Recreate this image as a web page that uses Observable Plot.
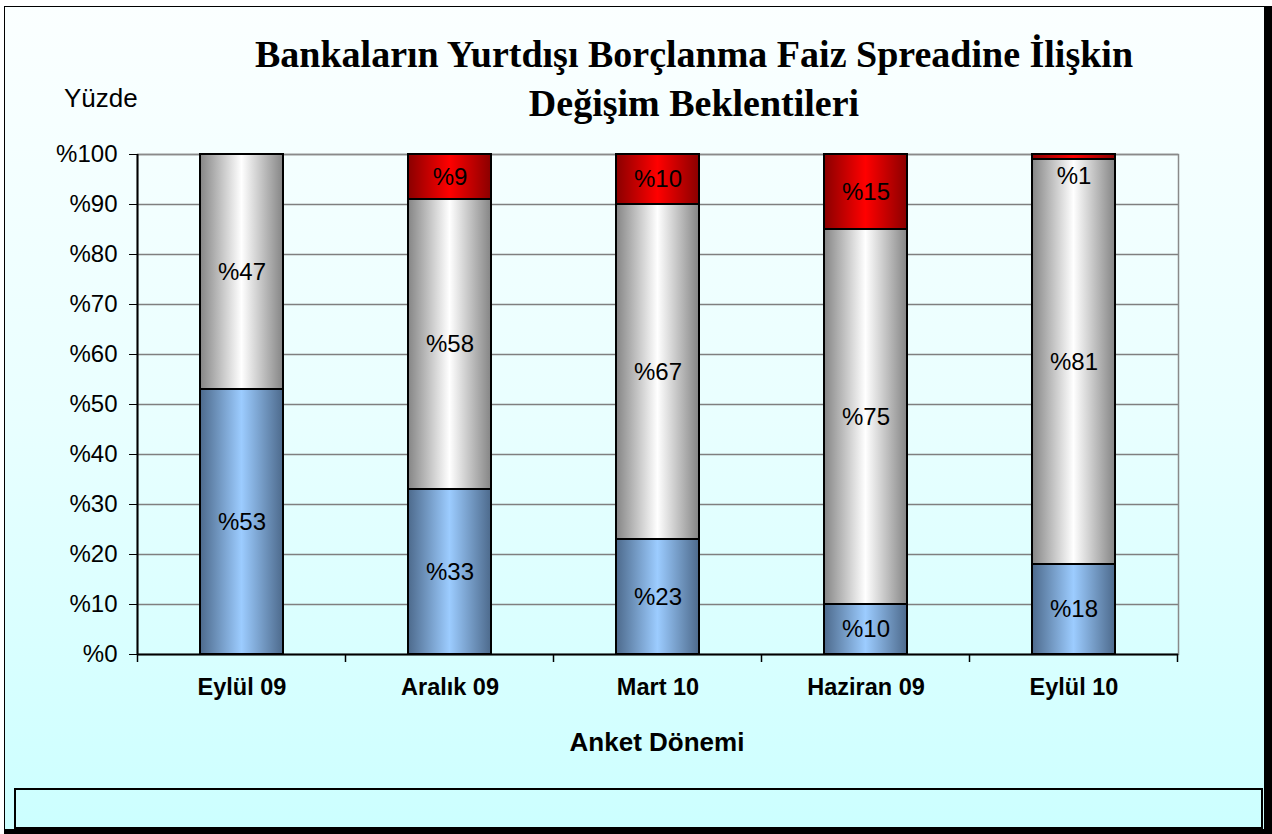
<!DOCTYPE html>
<html><head><meta charset="utf-8">
<script src="https://cdn.jsdelivr.net/npm/d3@7"></script>
<script src="https://cdn.jsdelivr.net/npm/@observablehq/plot@0.6"></script>
<style>
body{margin:0;background:#fff;}
#wrap{position:relative;width:1272px;height:834px;overflow:hidden;font-family:"Liberation Sans",Arial,sans-serif;}
#frame{position:absolute;left:4px;top:6px;width:1259px;height:822px;border-left:1px solid #000;border-top:1px solid #000;border-right:9px solid #000;border-bottom:6px solid #000;background:linear-gradient(to bottom,#fbffff 0%,#e9ffff 50%,#ccffff 100%);}
#title{position:absolute;left:194px;width:1000px;top:30px;text-align:center;font-family:"Liberation Serif","Times New Roman",serif;font-weight:bold;font-size:38px;line-height:49px;color:#000;white-space:nowrap;}
#yl{position:absolute;left:64px;top:83px;font-size:26px;line-height:30px;color:#000;}
#xl{position:absolute;left:457px;width:400px;top:727px;text-align:center;font-size:26px;line-height:30px;font-weight:bold;color:#000;}
#legend{position:absolute;left:14px;top:788px;width:1245px;height:37px;border:2px solid #000;}
#chart{position:absolute;left:0;top:0;}
</style></head>
<body>
<div id="wrap">
  <div id="frame"></div>
  <div id="title">Bankaların Yurtdışı Borçlanma Faiz Spreadine İlişkin<br>Değişim Beklentileri</div>
  <div id="yl">Yüzde</div>
  <div id="chart"></div>
  <div id="xl">Anket Dönemi</div>
  <div id="legend"></div>
</div>
<script>
const categories = ["Eylül 09", "Aralık 09", "Mart 10", "Haziran 09", "Eylül 10"];
const blueValues = [53, 33, 23, 10, 18];
const grayValues = [47, 58, 67, 75, 81];
const redValues = [0, 9, 10, 15, 1];
const yTicks = [0, 10, 20, 30, 40, 50, 60, 70, 80, 90, 100];

const seriesDefs = [
  {key: "blue", values: blueValues, grad: "gBlue"},
  {key: "gray", values: grayValues, grad: "gGray"},
  {key: "red", values: redValues, grad: "gRed"}
];
const rows = [];
categories.forEach((c, i) => {
  let acc = 0;
  for (const s of seriesDefs) {
    const v = s.values[i];
    rows.push({cat: c, series: s.key, value: v, y1: acc, y2: acc + v});
    acc += v;
  }
});

const barMarks = seriesDefs.map(s => Plot.barY(rows.filter(r => r.series === s.key && r.value > 0), {
  x: "cat", y1: "y1", y2: "y2", fill: `url(#${s.grad})`, stroke: "black", strokeWidth: 2
}));

const plot = Plot.plot({
  width: 1272, height: 834,
  marginLeft: 137, marginRight: 94, marginTop: 154, marginBottom: 180,
  style: {background: "transparent", color: "black", fontFamily: "'Liberation Sans', Arial, sans-serif", overflow: "visible"},
  x: {domain: categories, paddingInner: 0.6, paddingOuter: 0.3, label: null},
  y: {domain: [0, 100], label: null},
  marks: [
    Plot.gridY(yTicks.filter(t => t > 0), {stroke: "#7f7f7f", strokeOpacity: 1, strokeWidth: 1.5}),
    Plot.frame({stroke: "#8a8a8a", strokeWidth: 1.5}),
    ...barMarks,
    Plot.text(rows.filter(r => r.value >= 3), {x: "cat", y: r => (r.y1 + r.y2) / 2, text: r => "%" + r.value, fontSize: 24, fill: "black"}),
    Plot.text(rows.filter(r => r.value > 0 && r.value < 3), {x: "cat", y: r => (r.y1 + r.y2) / 2, text: r => "%" + r.value, fontSize: 24, fill: "black", dy: 19}),
    Plot.ruleY([0], {stroke: "black", strokeWidth: 2}),
    Plot.axisY({ticks: yTicks, tickSize: 8, tickPadding: 12, fontSize: 24, tickFormat: d => "%" + d, label: null, stroke: "black"}),
    Plot.axisX({tickSize: 0, tickPadding: 24, fontSize: 23.5, fontWeight: "bold", label: null})
  ]
});

const svg = d3.select(plot);
const defs = svg.insert("defs", ":first-child");
function grad(id, edge, mid) {
  const g = defs.append("linearGradient").attr("id", id).attr("x1", "0%").attr("x2", "100%").attr("y1", "0%").attr("y2", "0%");
  g.append("stop").attr("offset", "0%").attr("stop-color", edge);
  g.append("stop").attr("offset", "50%").attr("stop-color", mid);
  g.append("stop").attr("offset", "100%").attr("stop-color", edge);
}
grad("gBlue", "#4d6a8c", "#9cccff");
grad("gGray", "#858585", "#ffffff");
grad("gRed", "#8a0000", "#ff0000");

const xs = plot.scale("x"), ys = plot.scale("y");
const step = xs.step;
const y0 = ys.apply(0), y100 = ys.apply(100);
const left = xs.apply(categories[0]) + xs.bandwidth / 2 - step / 2;
const g = svg.append("g");
g.append("line").attr("x1", left).attr("x2", left).attr("y1", y100).attr("y2", y0).attr("stroke", "black").attr("stroke-width", 2);
for (let i = 0; i <= categories.length; i++) {
  const x = left + i * step;
  g.append("line").attr("x1", x).attr("x2", x).attr("y1", y0).attr("y2", y0 + 8).attr("stroke", "black").attr("stroke-width", 1.5);
}
document.getElementById("chart").appendChild(plot);
</script>
</body></html>
